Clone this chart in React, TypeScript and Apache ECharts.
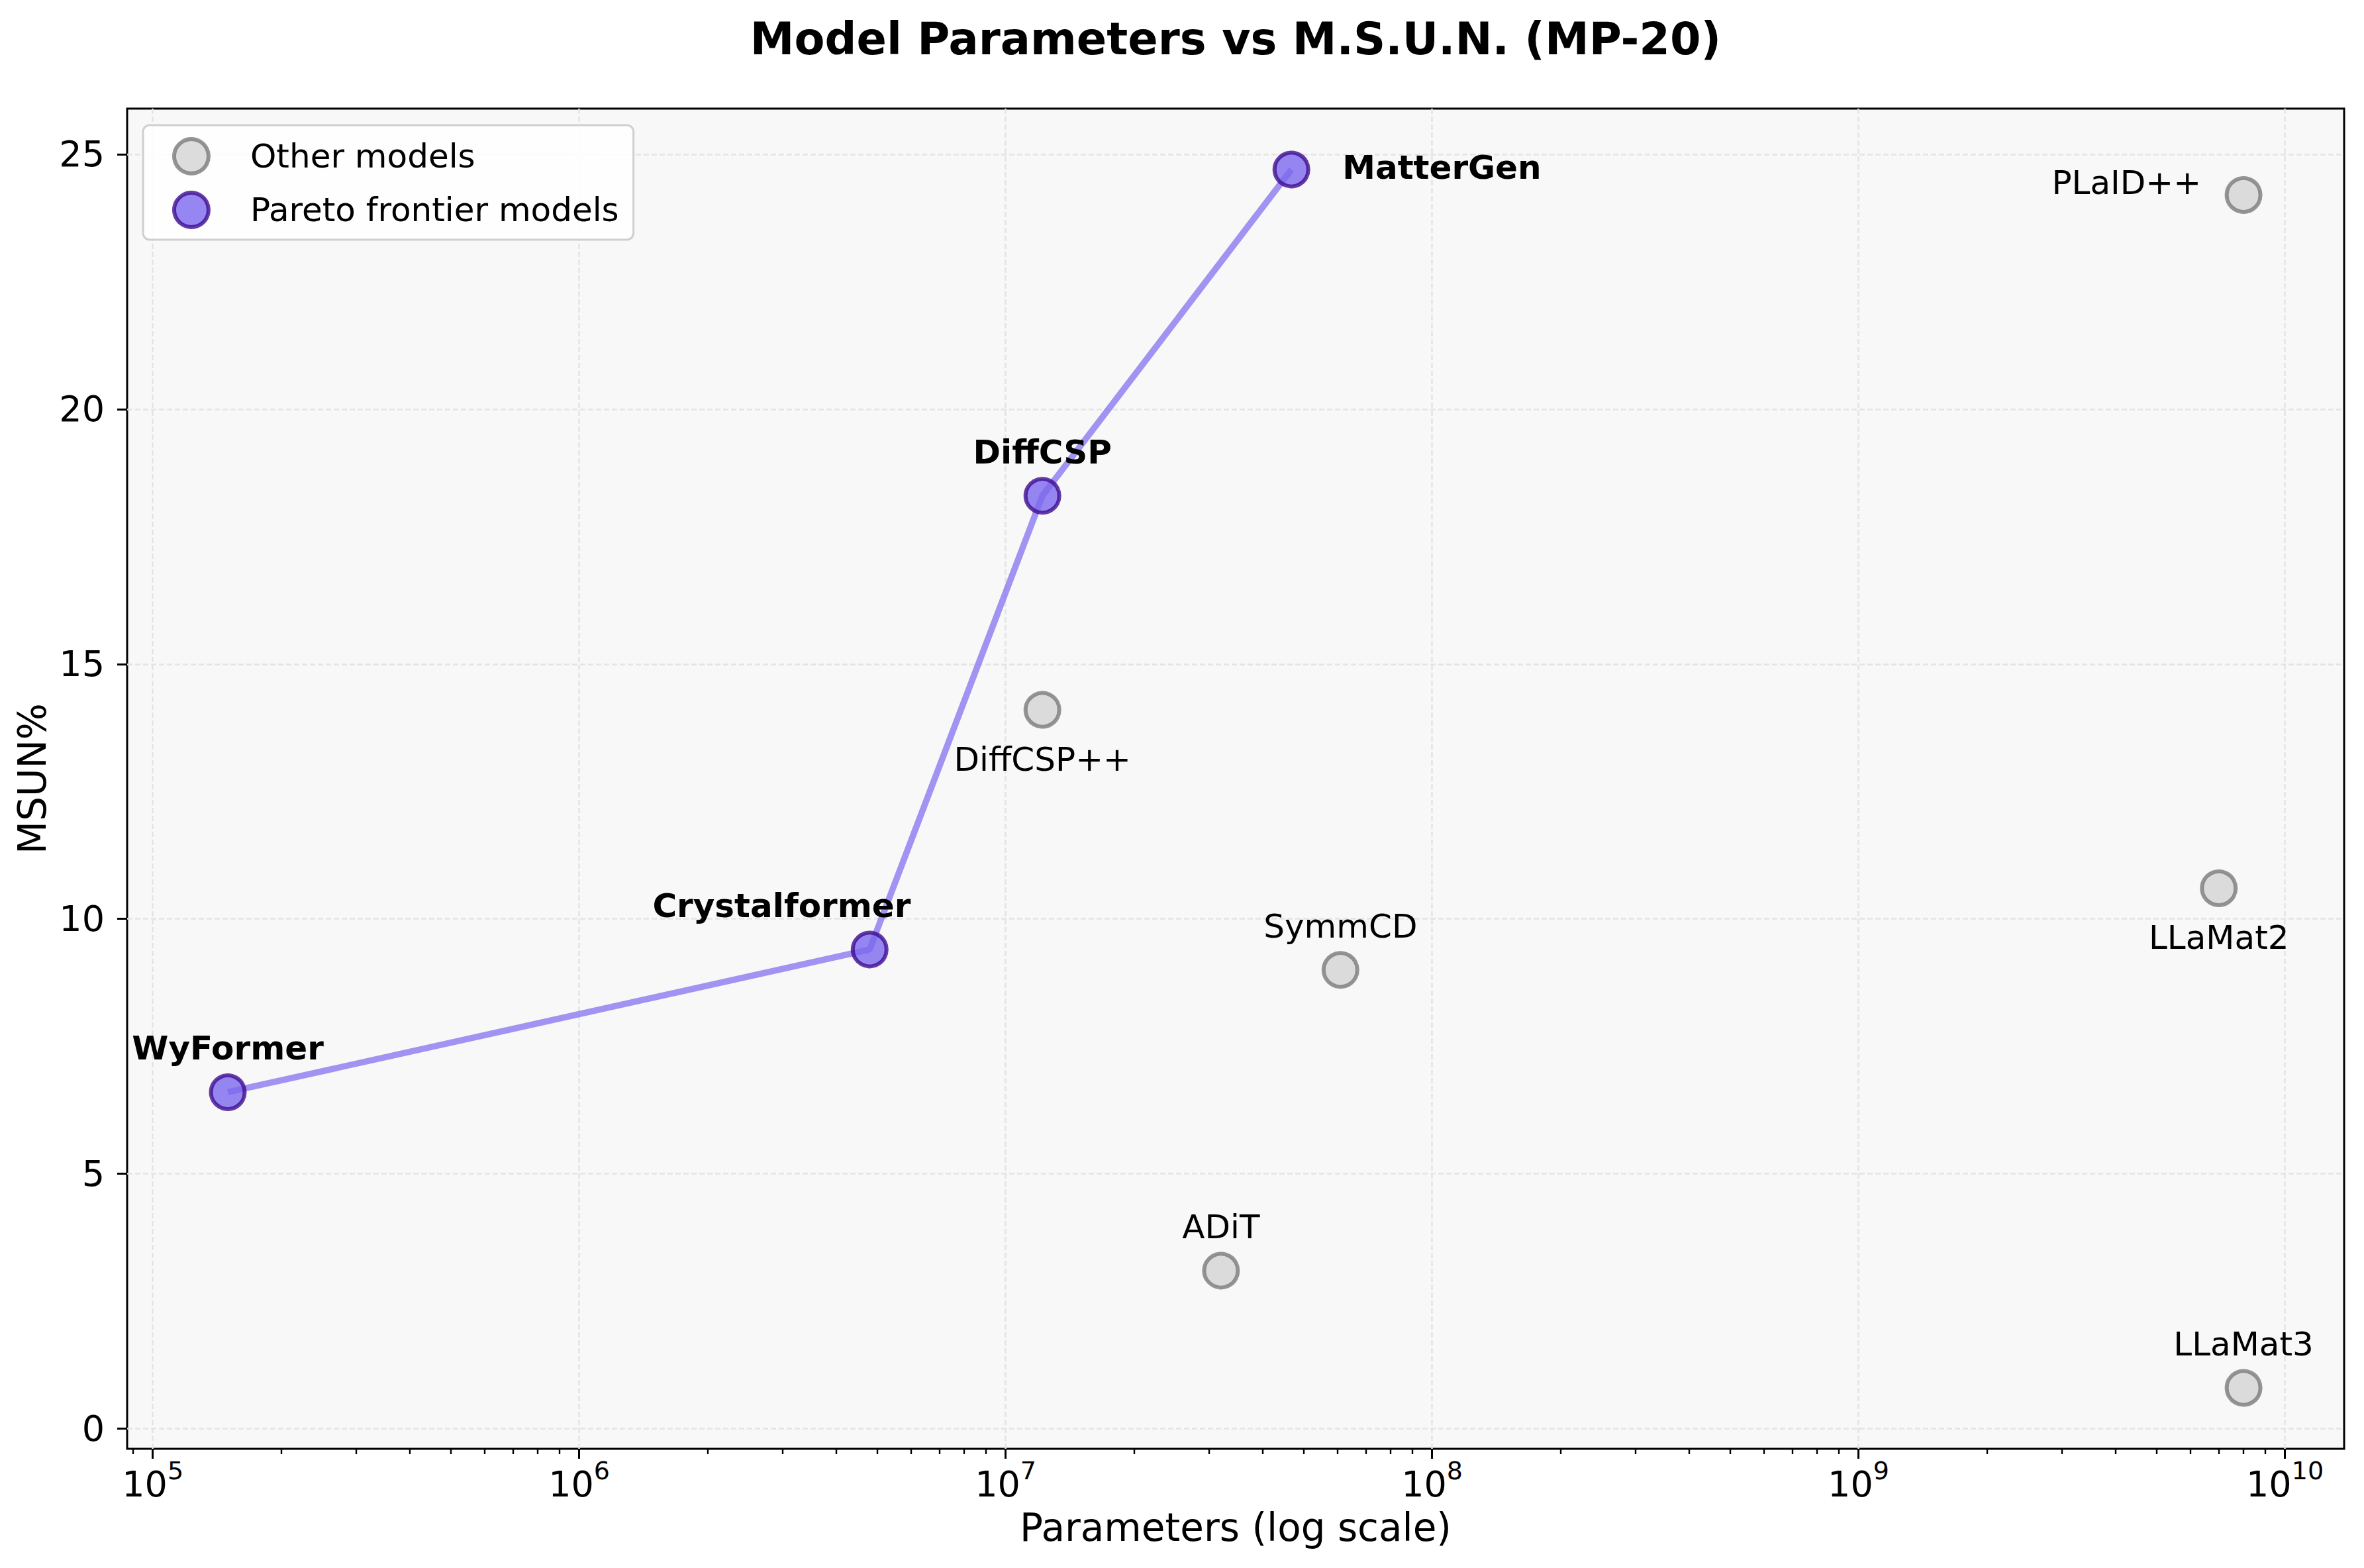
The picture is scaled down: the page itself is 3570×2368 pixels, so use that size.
import React, { useEffect, useRef } from 'react';
import * as echarts from 'echarts';

// ---- Data ----
const paretoNames = ['WyFormer', 'Crystalformer', 'DiffCSP', 'MatterGen'];
const paretoParams = [1.5e5, 4.8e6, 1.22e7, 4.68e7];
const paretoMsun = [6.6, 9.4, 18.3, 24.7];

const otherNames = ['DiffCSP++', 'SymmCD', 'ADiT', 'PLaID++', 'LLaMat2', 'LLaMat3'];
const otherParams = [1.22e7, 6.1e7, 3.2e7, 8.0e9, 7.0e9, 8.0e9];
const otherMsun = [14.1, 9.0, 3.1, 24.2, 10.6, 0.8];

const xMajorTicks = [1e5, 1e6, 1e7, 1e8, 1e9, 1e10];
const yTicks = [0, 5, 10, 15, 20, 25];

const X_MIN = 8.71e4;
const X_MAX = 1.377e10;
const Y_MIN = -0.395;
const Y_MAX = 25.895;

// minor ticks of a log axis: 2..9 x each decade
const xMinorTicks: number[] = [];
for (let e = 4; e <= 10; e++) {
  for (let m = 2; m <= 9; m++) {
    const v = m * Math.pow(10, e);
    if (v > X_MIN && v < X_MAX) xMinorTicks.push(v);
  }
}

// ---- Label placement (style, not data) ----
const labelPlacement: Record<string, { align: string; offset: number[] }> = {
  WyFormer: { align: 'center', offset: [0, -66] },
  Crystalformer: { align: 'right', offset: [62, -66] },
  DiffCSP: { align: 'center', offset: [0, -66] },
  MatterGen: { align: 'left', offset: [77, -3] },
  'DiffCSP++': { align: 'center', offset: [0, 75] },
  SymmCD: { align: 'center', offset: [0, -66] },
  ADiT: { align: 'center', offset: [0, -66] },
  'PLaID++': { align: 'right', offset: [-64, -18] },
  LLaMat2: { align: 'center', offset: [0, 74] },
  LLaMat3: { align: 'center', offset: [0, -66] },
};

const FONT = 'DejaVu Sans';
const OTHER_STYLE = { color: '#d3d3d3', borderColor: '#7a7a7a', borderWidth: 6, opacity: 0.8 };
const PARETO_STYLE = { color: '#7b68ee', borderColor: '#3f0c90', borderWidth: 6, opacity: 0.8 };
const GRID_LINE = { color: '#e3e3e3', width: 2.5, type: [8, 4] as any };

export default function App() {
  const ref = useRef<HTMLDivElement>(null);

  useEffect(() => {
    document.body.style.margin = '0';
    document.body.style.overflow = 'hidden';
    if (!ref.current) return;
    const chart = echarts.init(ref.current, undefined, { renderer: 'svg' });

    const otherData = otherNames.map((n, i) => ({
      name: n,
      value: [otherParams[i], otherMsun[i]],
      label: { align: labelPlacement[n].align, offset: labelPlacement[n].offset },
    }));
    const paretoData = paretoNames.map((n, i) => ({
      name: n,
      value: [paretoParams[i], paretoMsun[i]],
      label: { align: labelPlacement[n].align, offset: labelPlacement[n].offset },
    }));

    const option: any = {
      animation: false,
      backgroundColor: '#ffffff',
      textStyle: { fontFamily: FONT },
      title: {
        text: 'Model Parameters vs M.S.U.N. (MP-20)',
        left: 1866,
        top: 19,
        textAlign: 'center',
        padding: 0,
        textStyle: { fontFamily: FONT, fontWeight: 'bold', fontSize: 67, lineHeight: 80, color: '#000' },
      },
      grid: {
        left: 192,
        right: 30,
        top: 164,
        bottom: 180,
        show: true,
        backgroundColor: '#f8f8f8',
        borderColor: '#000',
        borderWidth: 3,
      },
      legend: {
        show: true,
        orient: 'vertical',
        left: 216,
        top: 189,
        padding: [18, 22, 16, 44],
        itemWidth: 52,
        itemHeight: 52,
        itemGap: 23,
        backgroundColor: 'rgba(255,255,255,0.85)',
        borderColor: '#cfcfcf',
        borderWidth: 3,
        borderRadius: 10,
        selectedMode: false,
        textStyle: { fontFamily: FONT, fontSize: 50, lineHeight: 52, color: '#000', padding: [0, 0, 0, 58] },
        data: [
          { name: 'Other models', icon: 'circle', itemStyle: OTHER_STYLE },
          { name: 'Pareto frontier models', icon: 'circle', itemStyle: PARETO_STYLE },
        ],
      },
      xAxis: [
        {
          type: 'log',
          logBase: 10,
          min: X_MIN,
          max: X_MAX,
          position: 'bottom',
          name: 'Parameters (log scale)',
          nameLocation: 'middle',
          nameGap: 90,
          nameTextStyle: { fontFamily: FONT, fontSize: 58, lineHeight: 58, color: '#000' },
          axisLine: { show: false, onZero: false },
          axisTick: {
            show: true,
            inside: false,
            length: 15,
            lineStyle: { color: '#000', width: 3 },
            customValues: xMajorTicks,
          },
          axisLabel: {
            show: true,
            customValues: xMajorTicks,
            margin: 14,
            color: '#000',
            formatter: (v: number) => `{b|10}{s|${Math.round(Math.log10(v))}}`,
            rich: {
              b: { fontFamily: FONT, fontSize: 54, lineHeight: 66, verticalAlign: 'bottom', color: '#000' },
              s: { fontFamily: FONT, fontSize: 38, lineHeight: 30, verticalAlign: 'top', color: '#000' },
            },
          },
          splitLine: { show: true, lineStyle: GRID_LINE },
        },
        {
          type: 'log',
          logBase: 10,
          min: X_MIN,
          max: X_MAX,
          position: 'bottom',
          axisLine: { show: false, onZero: false },
          axisLabel: { show: false },
          splitLine: { show: false },
          axisTick: {
            show: true,
            inside: false,
            length: 8,
            lineStyle: { color: '#000', width: 2.4 },
            customValues: xMinorTicks,
          },
        },
      ],
      yAxis: {
        type: 'value',
        min: Y_MIN,
        max: Y_MAX,
        name: 'MSUN%',
        nameLocation: 'middle',
        nameGap: 84,
        nameTextStyle: { fontFamily: FONT, fontSize: 58, lineHeight: 58, color: '#000' },
        axisLine: { show: false, onZero: false },
        axisTick: {
          show: true,
          length: 15,
          lineStyle: { color: '#000', width: 3 },
          customValues: yTicks,
        },
        axisLabel: { customValues: yTicks, margin: 34, fontSize: 54, color: '#000', fontFamily: FONT },
        splitLine: { show: true, lineStyle: GRID_LINE },
      },
      series: [
        {
          type: 'line',
          name: 'Pareto frontier',
          xAxisIndex: 0,
          data: paretoParams.map((p, i) => [p, paretoMsun[i]]),
          symbol: 'none',
          showSymbol: false,
          silent: true,
          lineStyle: { color: '#7b68ee', width: 9.5, opacity: 0.7 },
          z: 2,
        },
        {
          type: 'scatter',
          name: 'Other models',
          xAxisIndex: 0,
          data: otherData,
          symbol: 'circle',
          symbolSize: 51,
          itemStyle: OTHER_STYLE,
          label: {
            show: true,
            position: 'inside',
            formatter: '{b}',
            fontFamily: FONT,
            fontSize: 50,
            color: '#000',
            opacity: 1,
          },
          z: 3,
        },
        {
          type: 'scatter',
          name: 'Pareto frontier models',
          xAxisIndex: 0,
          data: paretoData,
          symbol: 'circle',
          symbolSize: 51,
          itemStyle: PARETO_STYLE,
          label: {
            show: true,
            position: 'inside',
            formatter: '{b}',
            fontFamily: FONT,
            fontSize: 50,
            fontWeight: 'bold',
            color: '#000',
            opacity: 1,
          },
          z: 4,
        },
      ],
    };

    chart.setOption(option);
    return () => chart.dispose();
  }, []);

  return <div ref={ref} style={{ width: 3570, height: 2368 }} />;
}
